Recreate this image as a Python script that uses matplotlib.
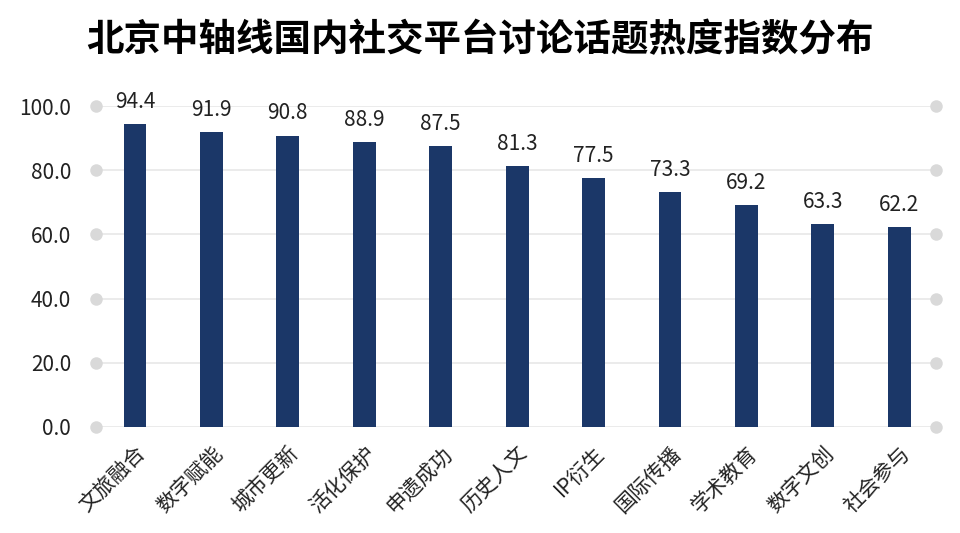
import numpy as np
import matplotlib
matplotlib.use('Agg')
import matplotlib.pyplot as plt

plt.rcParams['font.family'] = ['Noto Sans CJK SC', 'DejaVu Sans']

# dati
categorie = ['文旅融合', '数字赋能', '城市更新', '活化保护', '申遗成功',
             '历史人文', 'IP衍生', '国际传播', '学术教育', '数字文创', '社会参与']
valori = [94.4, 91.9, 90.8, 88.9, 87.5, 81.3, 77.5, 73.3, 69.2, 63.3, 62.2]
tick_y = [0, 20, 40, 60, 80, 100]

colore_barre = '#1b3768'

fig = plt.figure(figsize=(9.6, 5.33), dpi=100)
ax = fig.add_axes([0.1, 0.199, 0.875, 0.602])

x = np.arange(len(categorie))
ax.bar(x, valori, width=0.3, color=colore_barre, zorder=3)

for xi, v in zip(x, valori):
    ax.annotate(f'{v:.1f}', (xi, v), xytext=(0, 8), textcoords='offset points',
                ha='center', va='bottom', fontsize=15, color='#222222',
                annotation_clip=False)

ax.set_xlim(-0.51, len(categorie) - 0.52)
ax.set_ylim(0, 100)

# griglia orizzontale con pallini alle estremita
for t in tick_y:
    ax.axhline(t, color='#e8e8e8', lw=1.2, zorder=1)
    ax.plot([ax.get_xlim()[0], ax.get_xlim()[1]], [t, t], 'o', ms=9,
            color='#d9d9d9', clip_on=False, zorder=2, mec='none')

ax.set_yticks(tick_y)
ax.set_yticklabels([f'{t:.1f}' for t in tick_y], fontsize=15, color='#222222')
ax.tick_params(axis='y', length=0, pad=18)

ax.set_xticks(x)
ax.set_xticklabels(categorie, rotation=45, ha='right', rotation_mode='anchor',
                   fontsize=15, color='#222222')
ax.tick_params(axis='x', length=0, pad=11)

for s in ax.spines.values():
    s.set_visible(False)

fig.suptitle('北京中轴线国内社交平台讨论话题热度指数分布', fontsize=27,
             fontweight='bold', y=0.925, va='center')

fig.savefig('out.png', dpi=100)
